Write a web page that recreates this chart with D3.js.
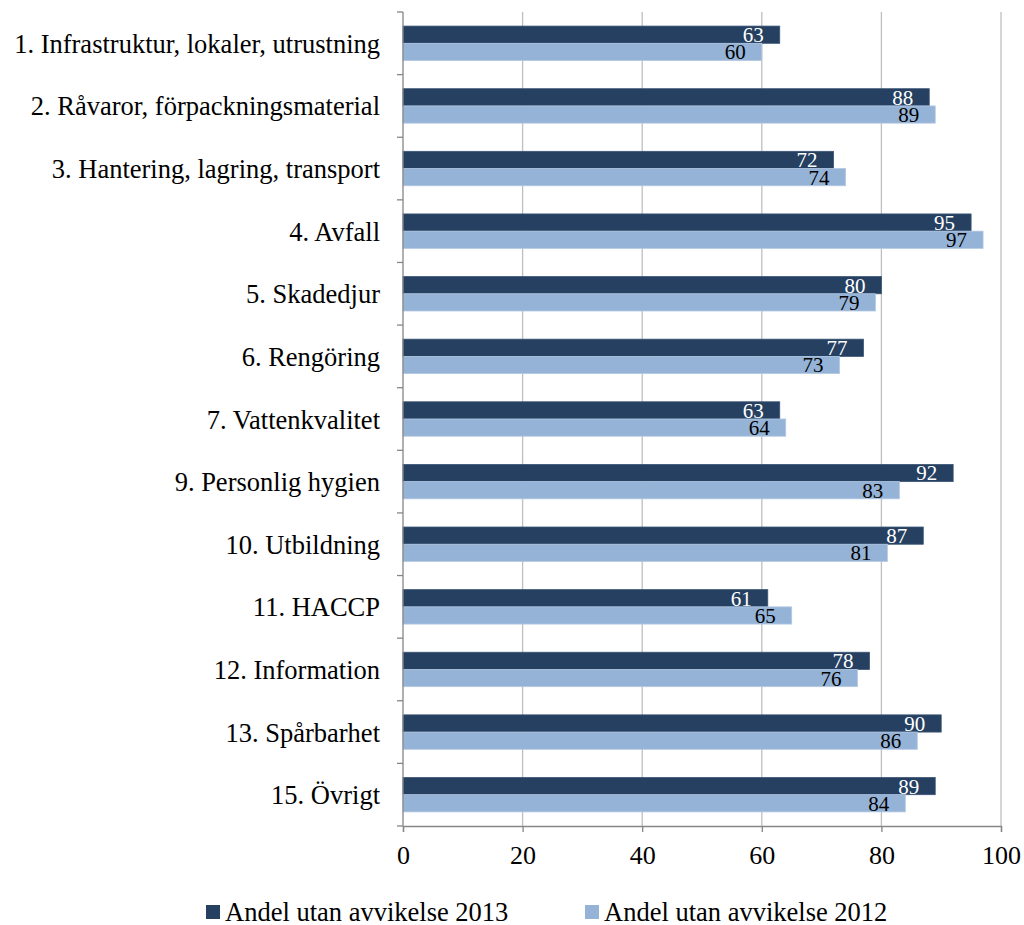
<!DOCTYPE html>
<html>
<head>
<meta charset="utf-8">
<script src="https://cdn.jsdelivr.net/npm/d3@7"></script>
<style>
  body { margin: 0; background: #fff; }
  svg text { font-family: "Liberation Serif", "Times New Roman", serif; }
</style>
</head>
<body>
<svg id="chart" width="1024" height="925"></svg>
<script>
var categories = [
    "1. Infrastruktur, lokaler, utrustning",
    "2. Råvaror, förpackningsmaterial",
    "3. Hantering, lagring, transport",
    "4. Avfall",
    "5. Skadedjur",
    "6. Rengöring",
    "7. Vattenkvalitet",
    "9. Personlig hygien",
    "10. Utbildning",
    "11. HACCP",
    "12. Information",
    "13. Spårbarhet",
    "15. Övrigt"
];
var values2013 = [63, 88, 72, 95, 80, 77, 63, 92, 87, 61, 78, 90, 89];
var values2012 = [60, 89, 74, 97, 79, 73, 64, 83, 81, 65, 76, 86, 84];
var seriesNames = ["Andel utan avvikelse 2013", "Andel utan avvikelse 2012"];
var xTicks = [0, 20, 40, 60, 80, 100];

var colors = ["#254061", "#95b3d7"];
var labelColors = ["#ffffff", "#000000"];
var serif = '"Liberation Serif", "Times New Roman", serif';

var svg = d3.select('#chart');
var margin = {top: 12, left: 403, right: 23, bottom: 99};
var width = 1024 - margin.left - margin.right;
var height = 925 - margin.top - margin.bottom;

var g = svg.append('g')
    .attr('transform', 'translate(' + margin.left + ',' + margin.top + ')');

var x = d3.scaleLinear().domain([0, 100]).range([0, width]);
var y = d3.scaleBand().domain(categories).range([0, height]);
var inner = d3.scaleBand().domain([0, 1])
    .range([y.bandwidth() * 0.225, y.bandwidth() * 0.775]);

// gridlines
g.selectAll('line.grid')
    .data(xTicks.slice(1))
    .enter().append('line')
        .attr('class', 'grid')
        .attr('x1', function(d){ return x(d); })
        .attr('x2', function(d){ return x(d); })
        .attr('y1', 0)
        .attr('y2', height)
        .style('stroke', '#bfbfbf')
        .style('stroke-width', 1.3);

var rows = categories.map(function(c, i){
    return {cat: c, vals: [values2013[i], values2012[i]]};
});

var groups = g.selectAll('g.row')
    .data(rows)
    .enter().append('g')
        .attr('class', 'row')
        .attr('transform', function(d){ return 'translate(0,' + y(d.cat) + ')'; });

groups.selectAll('rect')
    .data(function(d){ return d.vals; })
    .enter().append('rect')
        .attr('x', 0)
        .attr('y', function(d, i){ return inner(i); })
        .attr('width', function(d){ return x(d); })
        .attr('height', inner.bandwidth())
        .style('fill', function(d, i){ return colors[i]; })
        .style('stroke', function(d, i){ return i === 0 ? '#3b5575' : '#b3c8e2'; })
        .style('stroke-width', 0.8);

groups.selectAll('text.val')
    .data(function(d){ return d.vals; })
    .enter().append('text')
        .attr('class', 'val')
        .attr('x', function(d){ return x(d) - 16; })
        .attr('y', function(d, i){ return inner(i) + inner.bandwidth() / 2 + 7.5; })
        .attr('text-anchor', 'end')
        .attr('font-family', serif)
        .style('font-size', '21px')
        .style('fill', function(d, i){ return labelColors[i]; })
        .text(function(d){ return d; });

// y axis
var yAxis = d3.axisLeft(y).tickSize(0).tickPadding(23);
var ya = g.append('g').call(yAxis).attr('font-family', serif);
ya.select('.domain').remove();
ya.selectAll('text')
    .attr('font-family', serif)
    .style('font-size', '26.5px')
    .style('fill', '#000')
    .attr('dy', '0.36em');

g.append('line')
    .attr('x1', 0).attr('x2', 0)
    .attr('y1', 0).attr('y2', height)
    .style('stroke', '#868686').style('stroke-width', 1.3);

g.selectAll('line.ytick')
    .data(d3.range(categories.length + 1))
    .enter().append('line')
        .attr('class', 'ytick')
        .attr('x1', -6).attr('x2', 0)
        .attr('y1', function(d){ return d === categories.length ? height : y(categories[d]); })
        .attr('y2', function(d){ return d === categories.length ? height : y(categories[d]); })
        .style('stroke', '#868686').style('stroke-width', 1.3);

// x axis
var xAxis = d3.axisBottom(x).tickValues(xTicks).tickSize(6).tickPadding(14);
var xa = g.append('g')
    .attr('transform', 'translate(0,' + height + ')')
    .call(xAxis)
    .attr('font-family', serif);
xa.select('.domain').style('stroke', '#868686').style('stroke-width', 1.3);
xa.selectAll('.tick line').style('stroke', '#868686').style('stroke-width', 1.3);
xa.selectAll('text')
    .attr('font-family', serif)
    .style('font-size', '26px')
    .style('fill', '#000');

// legend
var legendX = [206, 585];
var legend = svg.selectAll('g.legend')
    .data(seriesNames)
    .enter().append('g')
        .attr('class', 'legend')
        .attr('transform', function(d, i){ return 'translate(' + legendX[i] + ',905)'; });
legend.append('rect')
    .attr('width', 14).attr('height', 14)
    .style('fill', function(d, i){ return colors[i]; });
legend.append('text')
    .attr('x', 19).attr('y', 16)
    .attr('font-family', serif)
    .style('font-size', '26.5px')
    .text(function(d){ return d; });
</script>
</body>
</html>
